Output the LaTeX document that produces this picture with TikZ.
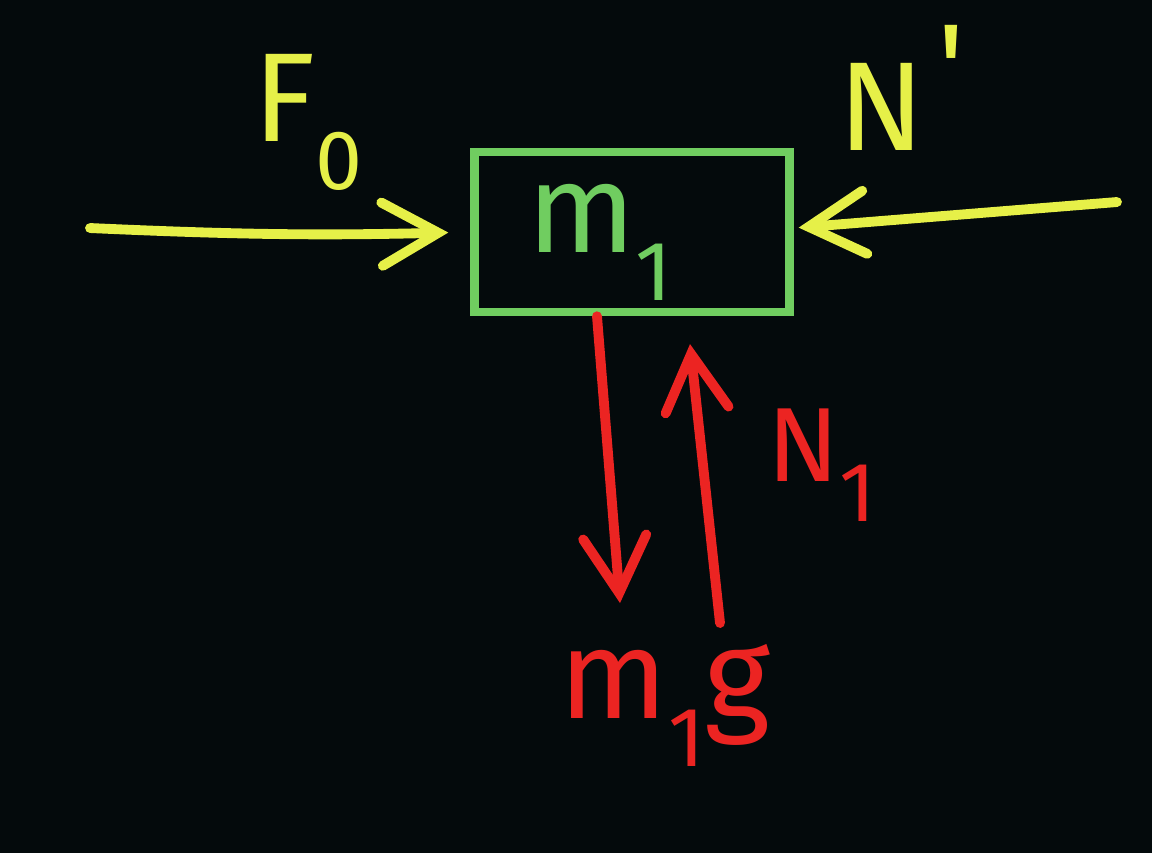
\documentclass[tikz,border=0pt]{standalone}
\usepackage{fontspec}
\setmainfont{Fira Sans}
\usetikzlibrary{arrows.meta, positioning}
\definecolor{board}{RGB}{4,10,12}
\definecolor{chalkyellow}{RGB}{230,240,72}
\definecolor{chalkgreen}{RGB}{112,205,96}
\definecolor{chalkred}{RGB}{236,36,34}
\newcommand{\lowsub}[1]{\raisebox{-0.38em}{\fontsize{24}{26}\selectfont #1}}
\newcommand{\primemark}{\kern0.1em\raisebox{0.3em}{\textquotesingle}}
\tikzset{
  forcearrow/.style={
    -{Straight Barb[length=16pt, width=18pt, line cap=round]},
    line width=2.8pt, line cap=round, color=#1
  },
  forcelabel/.style={
    font=\fontsize{36}{40}\selectfont, text=#1, inner sep=0pt
  },
  massbox/.style={
    rectangle, draw=chalkgreen, line width=2.4pt,
    minimum width=3.15cm, minimum height=1.6cm
  },
}

\begin{document}
\begin{tikzpicture}
  \fill[board] (0,0) rectangle (11.52,-8.53);
  \useasboundingbox (0,0) rectangle (11.52,-8.53);

  % block
  \node[massbox] (box) at (6.32,-2.32) {};
  \node[forcelabel=chalkgreen] (mass) at (6.00,-2.42) {m\lowsub{1}};

  % free ends of the arrows
  \coordinate (fzero) at (0.90,-2.28);
  \coordinate (nprime) at (11.17,-2.02);
  \coordinate (wtip) at (6.20,-6.03);
  \coordinate (nbase) at (7.20,-6.23);

  % horizontal forces
  \draw[forcearrow=chalkyellow, shorten >=0.22cm] (fzero) to[bend right=2] (box.west);
  \draw[forcearrow=chalkyellow, shorten >=0.05cm] (nprime) -- ([yshift=0.04cm]box.east);
  \node[forcelabel=chalkyellow] (flabel) at (3.08,-1.22) {F\lowsub{0}};
  \node[forcelabel=chalkyellow, anchor=base west] (nlabel) at (8.38,-1.50) {N\primemark};

  % vertical forces
  \draw[forcearrow=chalkred] ([xshift=-0.35cm]box.south) -- (wtip);
  \draw[forcearrow=chalkred, shorten >=0.28cm] (nbase) -- ([xshift=0.55cm]box.south);
  \node[forcelabel=chalkred, font=\fontsize{30}{34}\selectfont] (n1label) at (8.22,-4.65) {N\lowsub{1}};
  \node[forcelabel=chalkred] (wlabel) at (6.65,-7.05) {m\lowsub{1}g};
\end{tikzpicture}
\end{document}
